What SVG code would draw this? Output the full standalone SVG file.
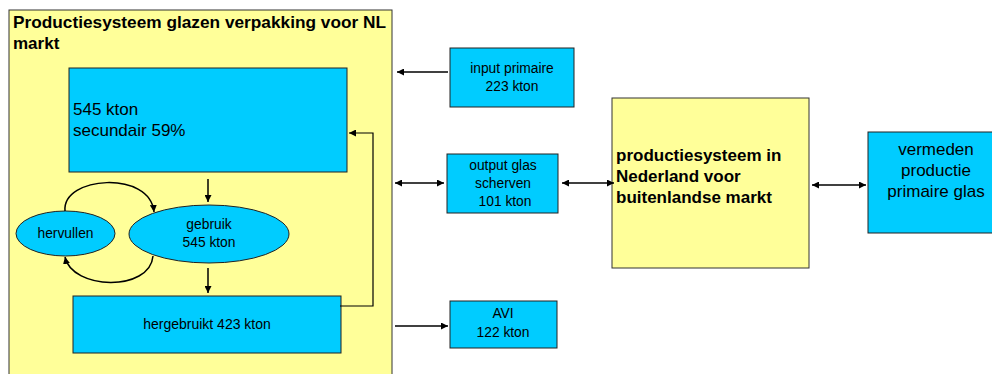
<svg xmlns="http://www.w3.org/2000/svg" width="992" height="374" viewBox="0 0 992 374">
<style>
.y{fill:#FFFF99;stroke:#333;stroke-width:1}
.b{fill:#00CCFF;stroke:#222;stroke-width:1}
.t{font-family:"Liberation Sans",Arial,sans-serif;fill:#000}
.c{stroke:#000;stroke-width:1.5;fill:none}
</style>
<defs>
<marker id="ah" viewBox="0 0 10 10" refX="10" refY="5" markerWidth="7" markerHeight="7" orient="auto-start-reverse" markerUnits="userSpaceOnUse">
<path d="M0,0 L10,5 L0,10 z" fill="#000"/>
</marker>
</defs>
<rect x="0" y="0" width="992" height="374" fill="#fff"/>
<g id="nl-system">
<rect class="y" x="9" y="10" width="383" height="370"/>
<text class="t" x="13" y="28" font-size="17" font-weight="bold" textLength="373" lengthAdjust="spacingAndGlyphs">Productiesysteem glazen verpakking voor NL</text>
<text class="t" x="13" y="49" font-size="17" font-weight="bold">markt</text>
</g>
<g id="secundair">
<rect class="b" x="69" y="68" width="278" height="104"/>
<text class="t" x="73" y="115" font-size="17">545 kton</text>
<text class="t" x="73" y="136" font-size="17">secundair 59%</text>
</g>
<g id="gebruik">
<ellipse class="b" cx="209" cy="234" rx="80" ry="29"/>
<text class="t" x="209" y="229" font-size="13.8" text-anchor="middle">gebruik</text>
<text class="t" x="209" y="247" font-size="13.8" text-anchor="middle">545 kton</text>
</g>
<g id="hervullen">
<ellipse class="b" cx="65.5" cy="233.5" rx="49.5" ry="22.5"/>
<text class="t" x="65.5" y="238" font-size="13.8" text-anchor="middle">hervullen</text>
</g>
<g id="hergebruikt">
<rect class="b" x="73" y="296" width="268" height="57"/>
<text class="t" x="207" y="329" font-size="14" text-anchor="middle">hergebruikt 423 kton</text>
</g>
<g id="input">
<rect class="b" x="450" y="48" width="124" height="59"/>
<text class="t" x="512" y="73" font-size="13.8" text-anchor="middle">input primaire</text>
<text class="t" x="512" y="91" font-size="13.8" text-anchor="middle">223 kton</text>
</g>
<g id="output">
<rect class="b" x="447" y="154" width="111" height="59"/>
<text class="t" x="503" y="170" font-size="13.8" text-anchor="middle">output glas</text>
<text class="t" x="503" y="188" font-size="13.8" text-anchor="middle">scherven</text>
<text class="t" x="505" y="206" font-size="13.8" text-anchor="middle">101 kton</text>
</g>
<g id="avi">
<rect class="b" x="450" y="301" width="107" height="47"/>
<text class="t" x="503" y="318" font-size="13.8" text-anchor="middle">AVI</text>
<text class="t" x="503" y="337" font-size="13.8" text-anchor="middle">122 kton</text>
</g>
<g id="buitenland">
<rect class="y" x="612" y="98" width="197" height="170"/>
<text class="t" x="616" y="161" font-size="17" font-weight="bold">productiesysteem in</text>
<text class="t" x="616" y="182" font-size="17" font-weight="bold">Nederland voor</text>
<text class="t" x="616" y="203" font-size="17" font-weight="bold">buitenlandse markt</text>
</g>
<g id="vermeden">
<rect class="b" x="868" y="132" width="130" height="101"/>
<text class="t" x="936" y="155" font-size="17" text-anchor="middle">vermeden</text>
<text class="t" x="936" y="176" font-size="17" text-anchor="middle">productie</text>
<text class="t" x="936" y="197" font-size="17" text-anchor="middle">primaire glas</text>
</g>
<g id="connectors">
<line class="c" x1="208" y1="179" x2="208" y2="202" marker-end="url(#ah)"/>
<line class="c" x1="208" y1="268" x2="208" y2="293" marker-end="url(#ah)"/>
<path class="c" d="M65,211 C62,176 150,170 154,212" marker-end="url(#ah)"/>
<path class="c" d="M153,256 C150,292 72,290 65,257" marker-end="url(#ah)"/>
<polyline class="c" style="stroke-width:1.2" points="340,306 373,306 373,133 349,133" marker-end="url(#ah)"/>
<line class="c" x1="448" y1="72" x2="397" y2="72" marker-end="url(#ah)"/>
<line class="c" x1="395" y1="183" x2="444" y2="183" marker-start="url(#ah)" marker-end="url(#ah)"/>
<line class="c" x1="562" y1="183" x2="614" y2="183" marker-start="url(#ah)" marker-end="url(#ah)"/>
<line class="c" x1="812" y1="185" x2="866" y2="185" marker-start="url(#ah)" marker-end="url(#ah)"/>
<line class="c" x1="395" y1="326" x2="448" y2="326" marker-end="url(#ah)"/>
</g>
</svg>
